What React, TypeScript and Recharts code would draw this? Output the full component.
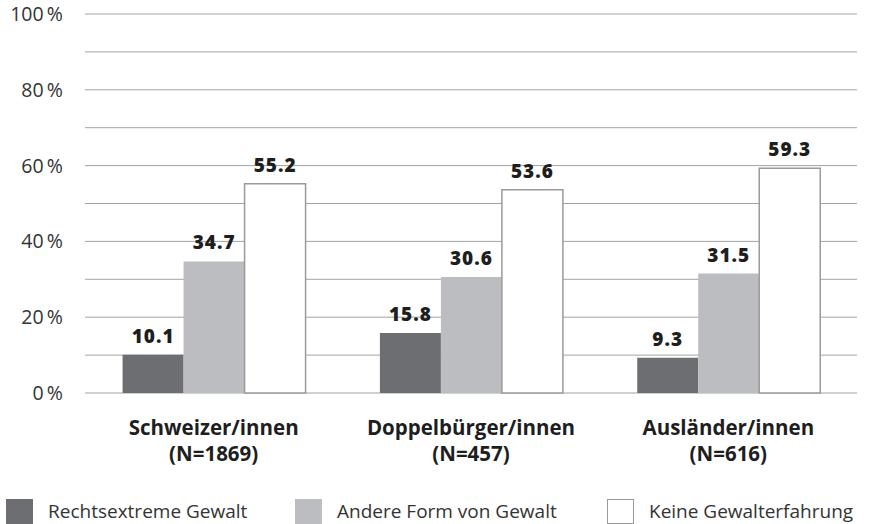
import { BarChart, Bar, XAxis, YAxis, CartesianGrid, LabelList } from 'recharts'

const groups = ['Schweizer/innen', 'Doppelbürger/innen', 'Ausländer/innen']
const sampleSizes = ['(N=1869)', '(N=457)', '(N=616)']
const rechtsextreme = [10.1, 15.8, 9.3]
const andereForm = [34.7, 30.6, 31.5]
const keineGewalt = [55.2, 53.6, 59.3]
const yTicks = [0, 10, 20, 30, 40, 50, 60, 70, 80, 90, 100]

const FONT = '"Open Sans", "Noto Sans", sans-serif'

const COLORS = {
  dark: '#6d6e71',
  light: '#bcbdc0',
  white: '#ffffff',
  whiteStroke: '#9a9a9c',
  grid: '#a3a3a5',
  text: '#1e1e1e',
}

const data = groups.map((g, i) => ({
  group: g,
  n: sampleSizes[i],
  rechtsextreme: rechtsextreme[i],
  andere: andereForm[i],
  keine: keineGewalt[i],
}))

const legendItems = [
  { label: 'Rechtsextreme Gewalt', fill: COLORS.dark, stroke: 'none', left: 6 },
  { label: 'Andere Form von Gewalt', fill: COLORS.light, stroke: 'none', left: 295 },
  { label: 'Keine Gewalterfahrung', fill: COLORS.white, stroke: COLORS.whiteStroke, left: 607 },
]

function GroupTick({ x, y, payload, index }: any) {
  return (
    <text x={x} y={y} textAnchor="middle" fill={COLORS.text} fontFamily={FONT} fontSize={20.5} fontWeight={700}>
      <tspan x={x} dy={34}>{payload.value}</tspan>
      <tspan x={x} dy={25.5}>{sampleSizes[index]}</tspan>
    </text>
  )
}

const labelProps = {
  position: 'top' as const,
  offset: 12,
  fill: COLORS.text,
  fontFamily: FONT,
  fontSize: 19,
  fontWeight: 800,
  letterSpacing: 1,
}

export default function App() {
  return (
    <div style={{ position: 'absolute', left: 0, top: 0, width: 869, height: 524, background: '#fff' }}>
      <BarChart
        width={869}
        height={470}
        data={data}
        margin={{ top: 14, right: 12, left: 0, bottom: 0 }}
        barCategoryGap="14.6%"
        barGap={0}
      >
        <CartesianGrid horizontal vertical={false} stroke={COLORS.grid} strokeWidth={1} />
        <XAxis
          dataKey="group"
          height={77}
          axisLine={false}
          tickLine={false}
          interval={0}
          tick={<GroupTick />}
        />
        <YAxis
          width={85}
          domain={[0, 100]}
          ticks={yTicks}
          interval={0}
          axisLine={false}
          tickLine={false}
          tickSize={0}
          tickMargin={22}
          tick={{ fill: '#333', fontFamily: FONT, fontSize: 19.5 }}
          tickFormatter={(v: number) => (v % 20 === 0 ? `${v}\u2009%` : '')}
        />
        <Bar dataKey="rechtsextreme" fill={COLORS.dark} isAnimationActive={false}>
          <LabelList dataKey="rechtsextreme" {...labelProps} />
        </Bar>
        <Bar dataKey="andere" fill={COLORS.light} isAnimationActive={false}>
          <LabelList dataKey="andere" {...labelProps} />
        </Bar>
        <Bar dataKey="keine" fill={COLORS.white} stroke={COLORS.whiteStroke} strokeWidth={1.5} isAnimationActive={false}>
          <LabelList dataKey="keine" {...labelProps} />
        </Bar>
      </BarChart>
      {legendItems.map((item) => (
        <div
          key={item.label}
          style={{
            position: 'absolute',
            left: item.left,
            top: 498,
            display: 'flex',
            alignItems: 'center',
            fontFamily: FONT,
            fontSize: 19,
            color: '#333',
            whiteSpace: 'nowrap',
          }}
        >
          <span
            style={{
              display: 'inline-block',
              width: 27,
              height: 25,
              boxSizing: 'border-box',
              background: item.fill,
              border: item.stroke === 'none' ? 'none' : `1px solid ${item.stroke}`,
              marginRight: 15,
            }}
          />
          <span>{item.label}</span>
        </div>
      ))}
    </div>
  )
}
